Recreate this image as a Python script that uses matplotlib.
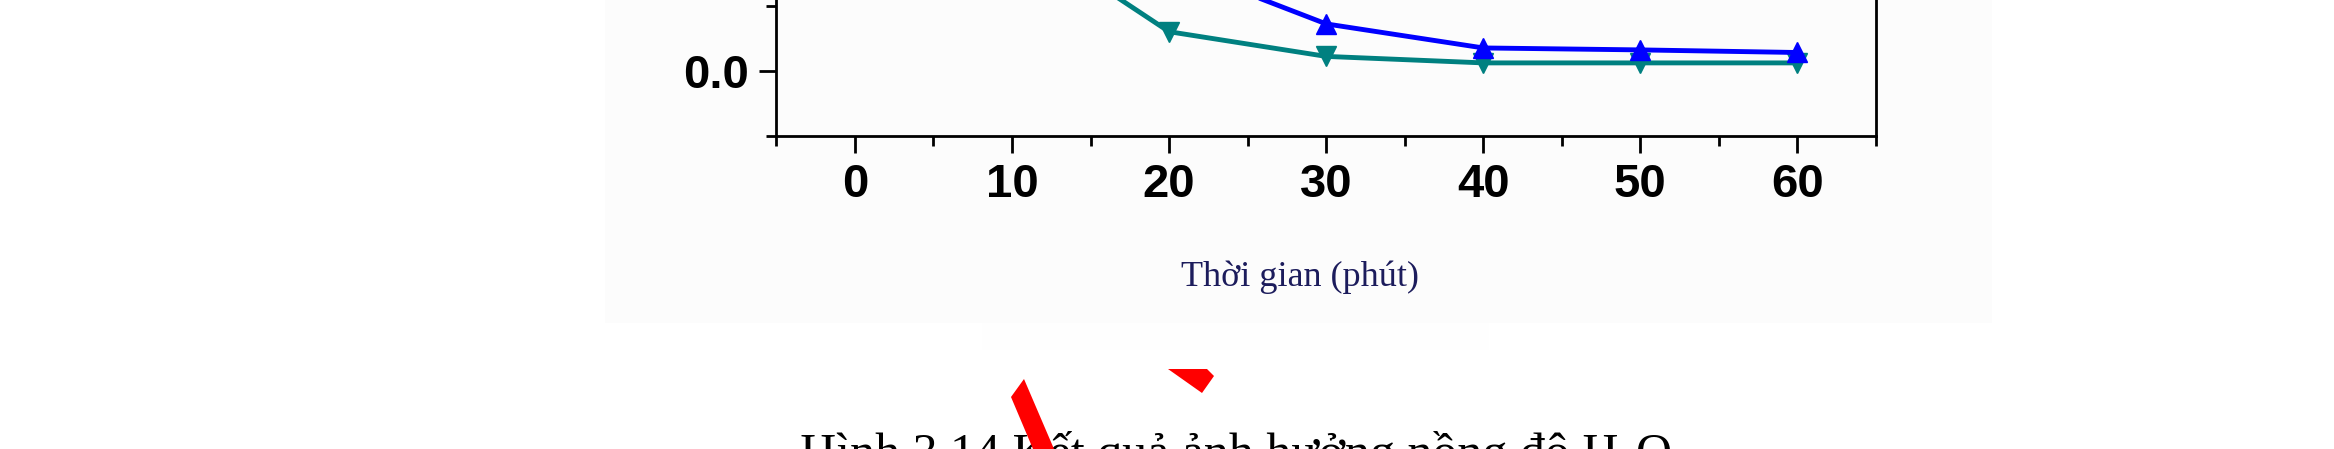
import matplotlib
matplotlib.use("Agg")
import matplotlib.pyplot as plt
from matplotlib.patches import Polygon, Rectangle
from matplotlib.ticker import MultipleLocator

time_teal = [10, 20, 30, 40, 50, 60]
conc_teal = [0.22, 0.060, 0.022, 0.012, 0.012, 0.012]
time_blue = [20, 30, 40, 50, 60]
conc_blue = [0.165, 0.072, 0.035, 0.032, 0.028]

x_label = "Thời gian (phút)"
caption = "Hình 3.14 Kết quả ảnh hưởng nồng độ H₂O"

W, H = 2334, 449
fig = plt.figure(figsize=(W / 100, H / 100), dpi=100)
fig.patch.set_facecolor("white")


def px(x, y):
    # pixel (from top-left) -> figure fraction
    return (x / W, 1 - y / H)


# faint background of the pasted chart image
fig.add_artist(Rectangle(px(605, 323), (1992 - 605) / W, 323 / H,
                         transform=fig.transFigure, facecolor="#fcfcfc",
                         edgecolor="none", zorder=0))
fig.add_artist(Rectangle(px(982, 350), (1489 - 982) / W, 27 / H,
                         transform=fig.transFigure, facecolor="#fefefe",
                         edgecolor="none", zorder=0))

# axes: bottom spine at y=136 px, 0.1 unit = 65 px, x 0..60 -> 855..1798 px
ylo, yhi = -0.1, 0.15
ax_h = (yhi - ylo) * 650 / H
ax = fig.add_axes([776.4 / W, (H - 135.7) / H, (1876 - 776.4) / W, ax_h])
ax.set_facecolor("none")

ax.plot(time_teal, conc_teal, color="#008080", lw=3.5, marker="v",
        markersize=15, clip_on=False, zorder=3)
ax.plot(time_blue, conc_blue, color="#0000ff", lw=3.5, marker="^",
        markersize=15, clip_on=False, zorder=4)

ax.set_xlim(-5, 65)
ax.set_ylim(ylo, yhi)
ax.xaxis.set_major_locator(MultipleLocator(10))
ax.xaxis.set_minor_locator(MultipleLocator(5))
ax.yaxis.set_major_locator(MultipleLocator(0.2))
ax.yaxis.set_minor_locator(MultipleLocator(0.1))
ax.set_xticks([0, 10, 20, 30, 40, 50, 60])
ax.set_xticklabels(["0", "10", "20", "30", "40", "50", "60"])
ax.yaxis.set_major_formatter(plt.FuncFormatter(lambda v, p: f"{v:.1f}"))

for s in ["left", "right", "bottom", "top"]:
    ax.spines[s].set_linewidth(2)
ax.tick_params(which="major", direction="out", length=12, width=2,
               pad=8, labelsize=34)
ax.tick_params(which="minor", direction="out", length=7, width=2)
ax.tick_params(right=False, top=False, which="both")
for lab in ax.get_xticklabels() + ax.get_yticklabels():
    lab.set_fontfamily("Liberation Sans")
    lab.set_fontweight("bold")

fig.text(*px(1300, 277), x_label, ha="center", va="center",
         fontsize=26, family="Liberation Serif", color="#1c1c5c")

# caption of the page, cut by the bottom edge
fig.text(*px(800, 468), caption, ha="left", va="baseline",
         fontsize=36, family="Liberation Serif", color="black", zorder=2)

# red pen marks on the page
red1 = [(1011, 397), (1024, 379), (1054, 449), (1033, 449)]
red2 = [(1168, 369), (1207, 369), (1214, 376), (1202, 393)]
for pts in (red1, red2):
    fig.add_artist(Polygon([px(x, y) for x, y in pts], closed=True,
                           transform=fig.transFigure, facecolor="#ff0000",
                           edgecolor="none", zorder=3))

fig.savefig("out.png", dpi=100)
